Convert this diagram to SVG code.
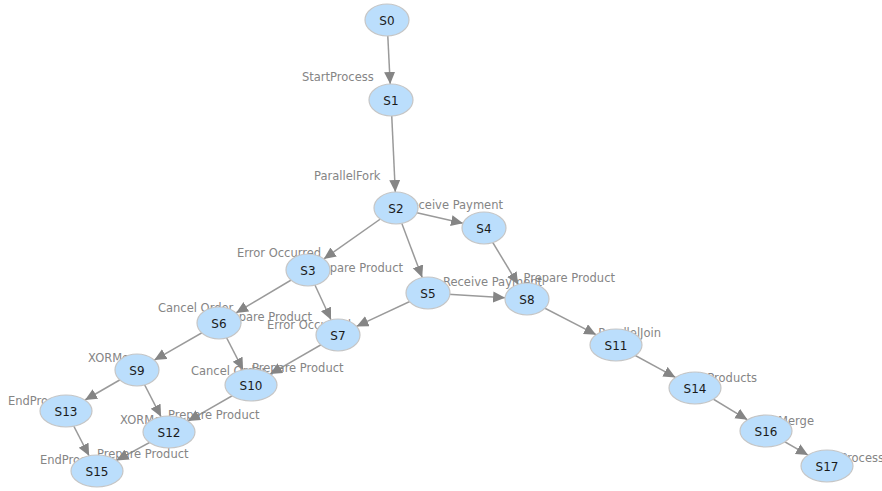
<svg xmlns="http://www.w3.org/2000/svg" width="882" height="491" viewBox="0 0 882 491">
  <style>
    .edge { stroke: #9a9a9a; stroke-width: 1.5; fill: none; marker-end: url(#arrow); }
    .elabel { font-family: "DejaVu Sans", Verdana, sans-serif; font-size: 11.5px; fill: #858585; }
    .node ellipse { fill: #bbdefc; stroke: #c6c6c6; stroke-width: 1.2; }
    .node text { font-family: "DejaVu Sans", Verdana, sans-serif; font-size: 12px; fill: #1a1a1a; text-anchor: middle; }
  </style>
  <defs>
    <marker id="arrow" markerUnits="userSpaceOnUse" markerWidth="13" markerHeight="12" refX="12" refY="5.5" orient="auto">
      <path d="M0,0 L12,5.5 L0,11 z" fill="#858585"/>
    </marker>
  </defs>
  <rect width="882" height="491" fill="#ffffff"/>

  <g id="connectors">
    <line class="edge" x1="387" y1="20" x2="390.2" y2="84"/>
    <line class="edge" x1="391" y1="100" x2="395.3" y2="192"/>
    <line class="edge" x1="396" y1="208" x2="463" y2="223.2"/>
    <line class="edge" x1="396" y1="208" x2="323.8" y2="258.9"/>
    <line class="edge" x1="396" y1="208" x2="422.2" y2="277.6"/>
    <line class="edge" x1="484" y1="228" x2="518.1" y2="284.4"/>
    <line class="edge" x1="428" y1="293" x2="505.1" y2="297.7"/>
    <line class="edge" x1="308" y1="270" x2="236" y2="312.9"/>
    <line class="edge" x1="308" y1="270" x2="331" y2="319.8"/>
    <line class="edge" x1="428" y1="293" x2="356.5" y2="326.4"/>
    <line class="edge" x1="219" y1="323" x2="154.3" y2="360.1"/>
    <line class="edge" x1="219" y1="323" x2="243.1" y2="369.8"/>
    <line class="edge" x1="338" y1="335" x2="270" y2="374.1"/>
    <line class="edge" x1="137" y1="370" x2="85" y2="400"/>
    <line class="edge" x1="137" y1="370" x2="161.1" y2="416.8"/>
    <line class="edge" x1="251" y1="385" x2="188" y2="421.1"/>
    <line class="edge" x1="66" y1="411" x2="89.1" y2="455.8"/>
    <line class="edge" x1="169" y1="432" x2="116.5" y2="460.4"/>
    <line class="edge" x1="527" y1="299" x2="596.1" y2="334.7"/>
    <line class="edge" x1="616" y1="345" x2="675.5" y2="377.4"/>
    <line class="edge" x1="695" y1="388" x2="747.5" y2="419.8"/>
    <line class="edge" x1="766" y1="431" x2="808" y2="455.1"/>
  </g>

  <g id="edge-labels">
    <text class="elabel" x="302" y="81">StartProcess</text>
    <text class="elabel" x="314" y="180">ParallelFork</text>
    <text class="elabel" x="503" y="209" text-anchor="end">Receive Payment</text>
    <text class="elabel" x="237" y="257">Error Occurred</text>
    <text class="elabel" x="403" y="272" text-anchor="end">Prepare Product</text>
    <text class="elabel" x="443" y="286">Receive Payment</text>
    <text class="elabel" x="615" y="282" text-anchor="end">Prepare Product</text>
    <text class="elabel" x="158" y="312">Cancel Order</text>
    <text class="elabel" x="312" y="321" text-anchor="end">Prepare Product</text>
    <text class="elabel" x="267" y="329">Error Occurred</text>
    <text class="elabel" x="88" y="362">XORMerge</text>
    <text class="elabel" x="191" y="375">Cancel Order</text>
    <text class="elabel" x="252" y="372">Prepare Product</text>
    <text class="elabel" x="8" y="405">EndProcess</text>
    <text class="elabel" x="120" y="424">XORMerge</text>
    <text class="elabel" x="168" y="419">Prepare Product</text>
    <text class="elabel" x="40" y="464">EndProcess</text>
    <text class="elabel" x="97" y="458">Prepare Product</text>
    <text class="elabel" x="661" y="337" text-anchor="end">ParallelJoin</text>
    <text class="elabel" x="757" y="382" text-anchor="end">ShipProducts</text>
    <text class="elabel" x="814" y="425" text-anchor="end">XORMerge</text>
    <text class="elabel" x="884" y="462" text-anchor="end">EndProcess</text>
  </g>

  <g id="S0" class="node"><ellipse cx="387" cy="20" rx="22" ry="16"/><text x="387" y="24.5">S0</text></g>
  <g id="S1" class="node"><ellipse cx="391" cy="100" rx="22" ry="16"/><text x="391" y="104.5">S1</text></g>
  <g id="S2" class="node"><ellipse cx="396" cy="208" rx="22" ry="16"/><text x="396" y="212.5">S2</text></g>
  <g id="S3" class="node"><ellipse cx="308" cy="270" rx="22" ry="16"/><text x="308" y="274.5">S3</text></g>
  <g id="S4" class="node"><ellipse cx="484" cy="228" rx="22" ry="16"/><text x="484" y="232.5">S4</text></g>
  <g id="S5" class="node"><ellipse cx="428" cy="293" rx="22" ry="16"/><text x="428" y="297.5">S5</text></g>
  <g id="S6" class="node"><ellipse cx="219" cy="323" rx="22" ry="16"/><text x="219" y="327.5">S6</text></g>
  <g id="S7" class="node"><ellipse cx="338" cy="335" rx="22" ry="16"/><text x="338" y="339.5">S7</text></g>
  <g id="S8" class="node"><ellipse cx="527" cy="299" rx="22" ry="16"/><text x="527" y="303.5">S8</text></g>
  <g id="S9" class="node"><ellipse cx="137" cy="370" rx="22" ry="16"/><text x="137" y="374.5">S9</text></g>
  <g id="S10" class="node"><ellipse cx="251" cy="385" rx="26" ry="16"/><text x="251" y="389.5">S10</text></g>
  <g id="S11" class="node"><ellipse cx="616" cy="345" rx="26" ry="16"/><text x="616" y="349.5">S11</text></g>
  <g id="S12" class="node"><ellipse cx="169" cy="432" rx="26" ry="16"/><text x="169" y="436.5">S12</text></g>
  <g id="S13" class="node"><ellipse cx="66" cy="411" rx="26" ry="16"/><text x="66" y="415.5">S13</text></g>
  <g id="S14" class="node"><ellipse cx="695" cy="388" rx="26" ry="16"/><text x="695" y="392.5">S14</text></g>
  <g id="S15" class="node"><ellipse cx="97" cy="471" rx="26" ry="16"/><text x="97" y="475.5">S15</text></g>
  <g id="S16" class="node"><ellipse cx="766" cy="431" rx="26" ry="16"/><text x="766" y="435.5">S16</text></g>
  <g id="S17" class="node"><ellipse cx="827" cy="466" rx="26" ry="16"/><text x="827" y="470.5">S17</text></g>
</svg>
